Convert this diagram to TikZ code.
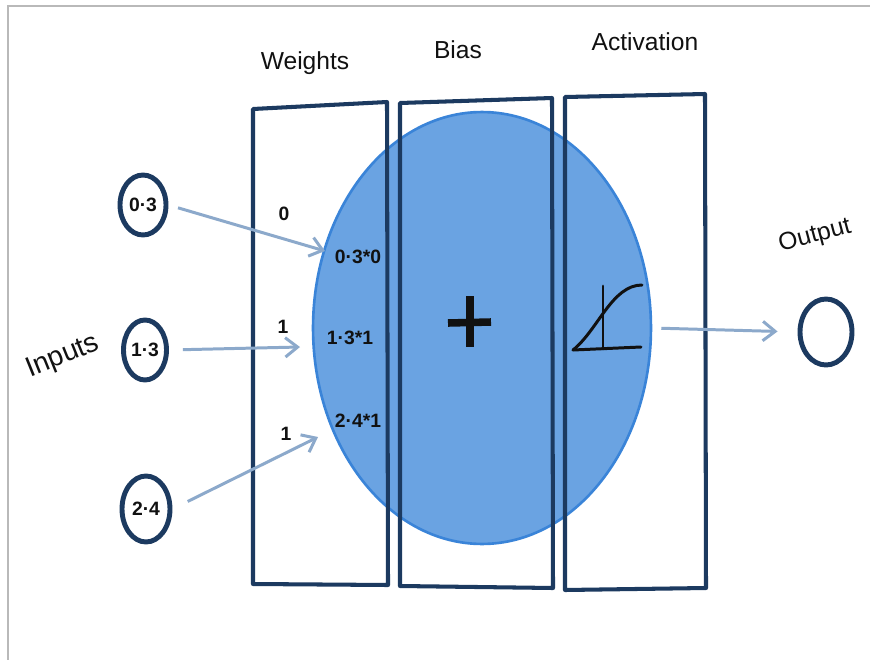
\documentclass[tikz,border=0pt]{standalone}
\usepackage{fontspec}
\setmainfont{Liberation Sans}
\usetikzlibrary{shapes.geometric,arrows.meta}
\definecolor{navy}{HTML}{1C3A60}
\definecolor{arrowc}{HTML}{8CA9CB}
\definecolor{neurofill}{HTML}{6AA3E2}
\definecolor{neuroedge}{HTML}{3A84D8}
\definecolor{ink}{HTML}{111111}
\tikzset{
  frame/.style={draw=navy, line width=2.3pt, line join=round},
  inputnode/.style={ellipse, draw=navy, line width=2.8pt, inner sep=0pt, font=\fontsize{11}{12}\selectfont\bfseries, text=ink},
  header/.style={font=\fontsize{14}{16}\selectfont, text=ink},
  small/.style={font=\fontsize{11}{12}\selectfont\bfseries, text=ink, inner sep=1pt},
  arr/.style={draw=arrowc, line width=1.7pt, -{Straight Barb[length=7pt,width=11pt,line width=1.7pt]}},
  ink line/.style={draw=ink, line width=1.7pt, line cap=round}
}
\begin{document}
\begin{tikzpicture}[x=0.02cm,y=-0.02cm]
\useasboundingbox (0,0) rectangle (870,660);
\fill[white] (0,0) rectangle (870,660);
% page border
\draw[gray!55, line width=0.6pt] (8,660) -- (8,6) -- (870,6);
% neuron body
\node[ellipse, fill=neurofill, draw=neuroedge, line width=1.5pt, minimum width=6.76cm, minimum height=8.64cm, inner sep=0pt] (neuron) at (482,328) {};
% frames
\draw[frame] (253,109) -- (387,102) -- (388,585) -- (253,584) -- cycle;
\draw[frame] (400,103) -- (552,98) -- (553,588) -- (400,586) -- cycle;
\draw[frame] (565,97) -- (705,94) -- (706,588) -- (565,590) -- cycle;
% headers
\node[header] (hw) at (305,63) {Weights};
\node[header] (hb) at (458,50) {Bias};
\node[header] (ha) at (645,42) {Activation};
\node[header, rotate=15] (ho) at (815,236) {Output};
\node[header, font=\fontsize{16}{18}\selectfont, rotate=22] (hi) at (63,357) {Inputs};
% inputs
\node[inputnode, minimum width=0.92cm, minimum height=1.2cm] (in1) at (143,205) {0·3};
\node[inputnode, minimum width=0.86cm, minimum height=1.2cm] (in2) at (145,350) {1·3};
\node[inputnode, minimum width=0.96cm, minimum height=1.32cm] (in3) at (146,509) {2·4};
% output
\node[ellipse, draw=navy, line width=2.8pt, inner sep=0pt, minimum width=1.04cm, minimum height=1.32cm] (out) at (826,332) {};
% weights
\node[small] (w1) at (284,214) {0};
\node[small] (w2) at (283,327) {1};
\node[small] (w3) at (286,434) {1};
% products
\node[small] (p1) at (358,257) {0·3*0};
\node[small] (p2) at (350,338) {1·3*1};
\node[small] (p3) at (358,421) {2·4*1};
% arrow ends
\coordinate (e1) at (325,251);
\coordinate (e2) at (300,347);
\coordinate (e3) at (318,437);
\draw[arr, shorten <=0.2cm] (in1.east) -- (e1);
\draw[arr, shorten <=0.28cm] (in2.east) -- (e2);
\draw[arr, shorten <=0.34cm] (in3.east) -- (e3);
\draw[arr, shorten <=0.18cm, shorten >=0.4cm] (neuron.east) -- (out.west);
% plus sign
\draw[draw=ink, line width=4.3pt] (470,296) -- (470,347);
\draw[draw=ink, line width=4.3pt] (448,323) -- (491,322);
% activation glyph
\draw[ink line] (603,286) -- (603,349);
\draw[ink line] (573,350) -- (641,347);
\draw[ink line] (573,350) .. controls (598,330) and (612,285) .. (642,285);
\end{tikzpicture}
\end{document}
